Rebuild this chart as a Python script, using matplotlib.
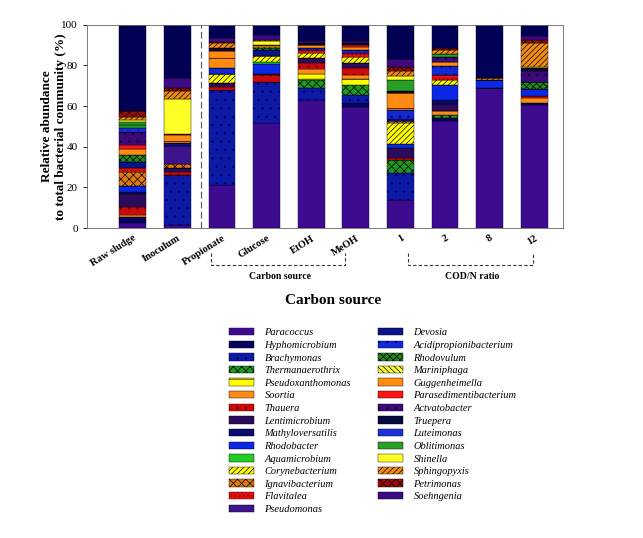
import numpy as np
import matplotlib.pyplot as plt

plt.rcParams['font.family'] = 'Liberation Serif'
plt.rcParams['hatch.linewidth'] = 0.5

samples = ['Raw sludge', 'Inoculum', 'Propionate', 'Glucose', 'EtOH', 'MeOH',
           '1', '2', '8', '12']

# relative abundance (%) per genus, one value per sample (bottom to top)
paracoccus = [2.5, 1.5, 21, 51.5, 63, 59.5, 14, 52.5, 69, 60.5]
hyphomicrobium = [3, 0, 0, 0, 0, 2, 0, 1.5, 0, 1]
brachymonas = [0, 24.5, 47, 20.5, 6, 4, 13, 0, 0, 0]
thermanaerothrix = [0, 0, 0, 0, 4, 5, 6.5, 1.5, 0, 0]
pseudoxanthomonas = [0, 0, 0, 0, 3, 3, 0, 0, 0, 0]
soortia = [1, 0, 0, 0, 2, 2, 0, 2, 0, 2.5]
thauera = [4, 1.5, 1.5, 3.5, 3, 3, 1, 0, 0, 1]
lentimicrobium = [6.5, 2, 2, 0.5, 2.5, 2.5, 5, 3.5, 0, 0]
mathyloversatilis = [1, 0, 0, 0, 0, 0, 0, 2, 0, 0]
rhodobacter = [2.5, 0, 0, 4.5, 0, 0, 2, 7.5, 4, 3.5]
aquamicrobium = [0, 0, 0, 1, 0, 0, 0, 0, 0, 0]
corynebacterium = [0, 0, 4.5, 3, 2.5, 3, 10, 2.5, 0, 0]
ignavibacterium = [7, 2, 0, 0, 0, 0, 1, 0, 0, 0]
flavitalea = [2, 0, 0, 0, 1.5, 2, 0, 2.5, 0, 0]
pseudomonas = [0, 9, 0, 0, 0, 0, 0, 0, 0, 0]
devosia = [3, 1.5, 0, 3, 0, 0, 1, 0, 0, 0]
acidipropionibacterium = [0, 0, 2.5, 0, 1, 1.5, 4.5, 4, 0, 0]
rhodovulum = [3.5, 0, 0, 1, 0, 0, 0, 0, 0, 3.5]
mariniphaga = [0, 0, 0, 0.5, 0, 0, 0, 0, 0, 0]
guggenheimella = [3, 4, 8.5, 1, 1.5, 1.5, 8.5, 2, 0, 0]
parasedimentibacterium = [2, 0.5, 0, 0, 0, 1, 0, 0, 0, 0]
actvatobacter = [6.5, 0, 0.5, 0, 0, 0, 0, 2.5, 0, 5.5]
truepera = [0, 0, 1, 0, 1, 1, 1, 0, 0, 1]
luteimonas = [1.5, 0, 0, 0, 0, 0, 0, 0, 0, 0]
oblitimonas = [3, 0, 0, 0, 0, 0, 5.5, 1.5, 0, 0]
shinella = [1, 17, 0, 2, 0, 0, 2, 0, 0, 0.5]
sphingopyxis = [1.5, 4, 2.5, 0.5, 0, 0, 2.5, 2, 1, 12]
petrimonas = [3, 1.5, 0.5, 0, 0, 0, 1.5, 1, 0, 1.5]
soehngenia = [0, 5, 2, 2.5, 1, 1, 4, 0, 0, 2]
others = [42.5, 26, 6.5, 5, 8, 8, 17, 11.5, 26, 5.5]

# (name, values, fill colour, hatch, hatch/edge colour)
series = [
    ('Paracoccus', paracoccus, '#3d0b8f', None, '#1a0040'),
    ('Hyphomicrobium', hyphomicrobium, '#050560', None, 'black'),
    ('Brachymonas', brachymonas, '#0c1aa6', '..', '#00005a'),
    ('Thermanaerothrix', thermanaerothrix, '#1e9a1e', 'xxxx', 'black'),
    ('Pseudoxanthomonas', pseudoxanthomonas, '#ffff00', '--', 'black'),
    ('Soortia', soortia, '#ff8c1a', None, 'black'),
    ('Thauera', thauera, '#c80a0a', '..', '#600000'),
    ('Lentimicrobium', lentimicrobium, '#2c0a5e', None, 'black'),
    ('Mathyloversatilis', mathyloversatilis, '#0a0a70', None, 'black'),
    ('Rhodobacter', rhodobacter, '#0a28e6', None, 'black'),
    ('Aquamicrobium', aquamicrobium, '#22cc22', None, 'black'),
    ('Corynebacterium', corynebacterium, '#ffff00', '//////', 'black'),
    ('Ignavibacterium', ignavibacterium, '#e07a10', 'xxxx', 'black'),
    ('Flavitalea', flavitalea, '#e01010', '....', '#700000'),
    ('Pseudomonas', pseudomonas, '#3c148c', None, 'black'),
    ('Devosia', devosia, '#0a1488', None, 'black'),
    ('Acidipropionibacterium', acidipropionibacterium, '#1428d2', '..', '#000070'),
    ('Rhodovulum', rhodovulum, '#1e8c1e', 'xxxxx', 'black'),
    ('Mariniphaga', mariniphaga, '#ffff30', '\\\\\\\\\\\\', 'black'),
    ('Guggenheimella', guggenheimella, '#ff8c10', '-', 'black'),
    ('Parasedimentibacterium', parasedimentibacterium, '#ff1414', None, 'black'),
    ('Actvatobacter', actvatobacter, '#3a0a78', '..', '#150030'),
    ('Truepera', truepera, '#080840', None, 'black'),
    ('Luteimonas', luteimonas, '#1a30d8', None, 'black'),
    ('Oblitimonas', oblitimonas, '#28a028', '-', 'black'),
    ('Shinella', shinella, '#ffff28', None, 'black'),
    ('Sphingopyxis', sphingopyxis, '#f08c14', '//////', 'black'),
    ('Petrimonas', petrimonas, '#a00a0a', 'xxxx', 'black'),
    ('Soehngenia', soehngenia, '#3c0a82', None, 'black'),
]

fig = plt.figure(figsize=(6.43, 5.38), dpi=100)
ax = fig.add_axes([0.135, 0.576, 0.741, 0.378])

x = np.arange(len(samples))
bottom = np.zeros(len(samples))
handles = []
for name, vals, col, hat, ec in series:
    b = ax.bar(x, vals, 0.6, bottom=bottom, color=col, hatch=hat,
               edgecolor=ec, linewidth=0.3, label=name)
    handles.append(b)
    bottom += np.array(vals)
ax.bar(x, others, 0.6, bottom=bottom, color='#000055',
       edgecolor='black', linewidth=0.3)

ax.set_xlim(-1.03, 9.65)
ax.set_ylim(0, 100)
ax.set_yticks([0, 20, 40, 60, 80, 100])
ax.tick_params(axis='y', labelsize=8, length=3, width=0.6)
ax.tick_params(axis='x', length=0, pad=4)
ax.set_xticks(x)
ax.set_xticklabels(samples, rotation=32, ha='right', rotation_mode='anchor',
                   fontsize=7.5, fontweight='bold')
for s in ax.spines.values():
    s.set_linewidth(0.6)
    s.set_color('#666666')

ax.set_ylabel('Relative abundance\nto total bacterial community (%)',
              fontsize=9.5, fontweight='bold', labelpad=-4)

# separator between seed samples and experiments
ax.plot([1.53, 1.53], [0, 100], color='#555555', lw=0.8, ls=(0, (6, 3)))

# group brackets under the axis
tr = ax.get_xaxis_transform()
for x0, x1, xt, txt in [(1.75, 4.76, 3.3, 'Carbon source'),
                        (6.18, 8.97, 7.6, 'COD/N ratio')]:
    ax.plot([x0, x0, x1, x1], [-0.123, -0.179, -0.179, -0.123], transform=tr,
            clip_on=False, color='#333333', lw=0.8, ls=(0, (3, 2)))
    ax.text(xt, -0.24, txt, transform=tr, ha='center', va='center',
            fontsize=7, fontweight='bold')

fig.text(333 / 643, 1 - 300 / 538, 'Carbon source', ha='center', va='center',
         fontsize=11, fontweight='bold')

fig.legend(handles=handles, loc='upper left', ncol=2,
           bbox_to_anchor=(229 / 643, 1 - 328 / 538), frameon=False,
           prop={'family': 'Liberation Serif', 'style': 'italic', 'size': 7.5},
           handlelength=2.4, handleheight=0.7, handletextpad=1.0,
           labelspacing=0.32, columnspacing=2.6, borderpad=0, borderaxespad=0)

fig.savefig('out.png', dpi=100)
